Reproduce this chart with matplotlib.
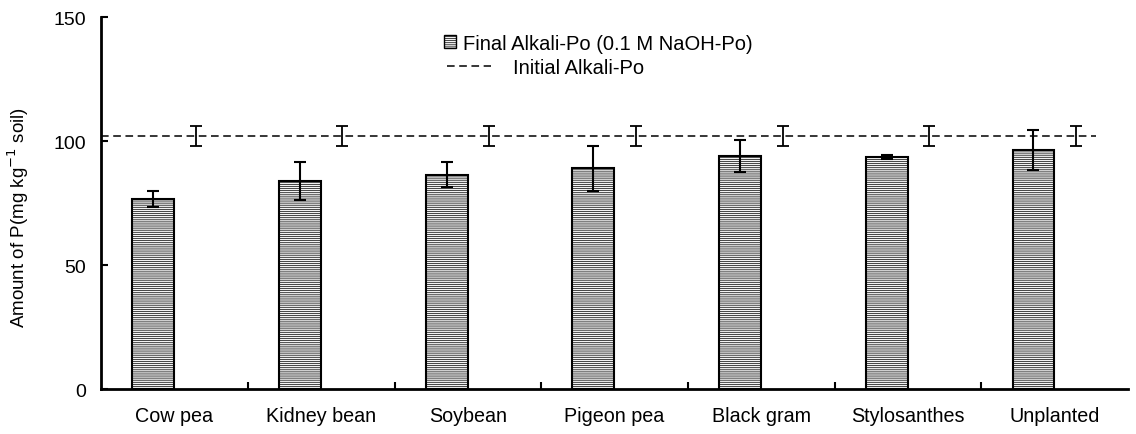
import numpy as np
import matplotlib
matplotlib.use("Agg")
import matplotlib.pyplot as plt
from matplotlib.lines import Line2D
from matplotlib.patches import Patch

plt.rcParams['font.family'] = ['Liberation Sans', 'DejaVu Sans']
plt.rcParams['hatch.color'] = '#bcbcbc'
plt.rcParams['hatch.linewidth'] = 0.5

# Данные: итоговый и исходный Alkali-Po по культурам
crops = ['Cow pea', 'Kidney bean', 'Soybean', 'Pigeon pea',
         'Black gram', 'Stylosanthes', 'Unplanted']
final_po = [76.5, 84.0, 86.5, 89.0, 94.0, 93.5, 96.5]
final_err = [3.2, 7.7, 5.0, 9.0, 6.5, 0.7, 8.0]
initial_po = [102.0, 102.0, 102.0, 102.0, 102.0, 102.0, 102.0]
initial_err = [4.0, 4.0, 4.0, 4.0, 4.0, 4.0, 4.0]
y_ticks = [0, 50, 100, 150]

x = np.arange(len(crops))
w = 0.285
off = 0.145
bar_face = '#f2f2f2'
bar_hatch = '--------'
dash = (0, (5, 3))

fig = plt.figure(figsize=(11.36, 4.35), dpi=100)
ax = fig.add_axes([0.089, 0.1034, 0.904, 0.855])

ax.bar(x - off, final_po, width=w, facecolor=bar_face, edgecolor='black',
       linewidth=1.5, hatch=bar_hatch, zorder=2)
ax.errorbar(x - off, final_po, yerr=final_err, fmt='none', ecolor='black',
            elinewidth=1.5, capsize=4.3, capthick=1.5, zorder=3)

# исходный уровень — пунктир по всей ширине с разбросом
ax.plot([-0.5, x[-1] + 0.28], [initial_po[0], initial_po[-1]], color='black',
        linestyle=dash, linewidth=1.1, zorder=3)
ax.errorbar(x + off, initial_po, yerr=initial_err, fmt='none', ecolor='black',
            elinewidth=1.3, capsize=4.3, capthick=1.3, zorder=3)

ax.set_xlim(-0.5, len(crops) - 0.5)
ax.set_ylim(0, 150)
ax.set_yticks(y_ticks)
ax.set_xticks(x)
ax.set_xticklabels(crops, fontsize=14.2)
ax.tick_params(axis='x', length=0, pad=12)
ax.set_xticks(x[:-1] + 0.5, minor=True)
ax.tick_params(axis='x', which='minor', direction='in', length=5, width=1.5)
ax.tick_params(axis='y', direction='in', length=5, width=1.5, labelsize=14, pad=11)

for s in ['top', 'right']:
    ax.spines[s].set_visible(False)
ax.spines['left'].set_linewidth(2)
ax.spines['bottom'].set_linewidth(2)

ax.set_ylabel('Amount of P(mg kg$^{-1}$ soil)', fontsize=13.5)
ax.yaxis.set_label_coords(-0.068, 0.465)

# две легенды, чтобы подписи стояли как в исходной раскладке
leg1 = ax.legend([Patch(facecolor=bar_face, edgecolor='black', hatch=bar_hatch, linewidth=1)],
                 ['Final Alkali-Po (0.1 M NaOH-Po)'],
                 loc='upper left', bbox_to_anchor=(0.324, 0.982), frameon=False,
                 fontsize=14.5, handlelength=0.6, handleheight=0.6, handletextpad=0.35,
                 borderpad=0.2, borderaxespad=0.3)
ax.add_artist(leg1)
ax.legend([Line2D([], [], color='black', linestyle=dash, linewidth=1.1)],
          ['Initial Alkali-Po'],
          loc='upper left', bbox_to_anchor=(0.327, 0.917), frameon=False,
          fontsize=14.5, handlelength=2.2, handletextpad=1.1,
          borderpad=0.2, borderaxespad=0.3)

fig.savefig('out.png', dpi=100)
